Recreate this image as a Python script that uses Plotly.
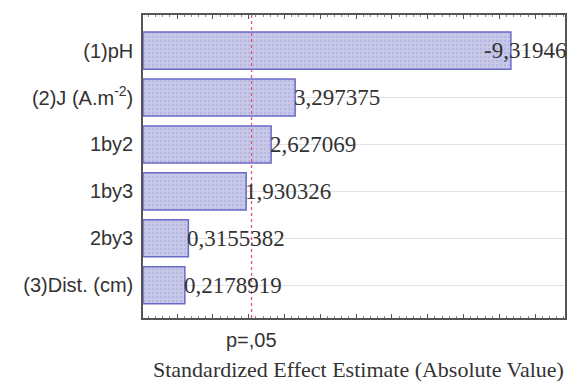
import plotly.graph_objects as go

categories = ["(3)Dist. (cm)", "2by3", "1by3", "1by2", "(2)J (A.m<sup>-2</sup>)", "(1)pH"]
values = [0.2178919, 0.3155382, 1.930326, 2.627069, 3.297375, 9.31946]
value_labels = ["0,2178919", "0,3155382", "1,930326", "2,627069", "3,297375", "-9,31946"]
p_value_line = 2.08
x_min, x_max = -0.95, 10.83

fig = go.Figure()
fig.add_trace(go.Bar(
    y=list(range(len(categories))),
    x=[v - x_min for v in values],
    base=x_min,
    orientation="h",
    width=0.79,
    marker=dict(color="#c2c2e6", line=dict(color="#6a6ac8", width=1.5),
                pattern=dict(shape=".", fgcolor="#a8a8d4", bgcolor="#c8c8ea", size=4, solidity=0.3)),
    hoverinfo="skip",
))

for i, (v, t) in enumerate(zip(values, value_labels)):
    if v > x_max - 2.2:
        fig.add_annotation(x=x_max, y=i, text=t, xanchor="right", showarrow=False, xshift=3,
                           font=dict(family="Liberation Serif", size=23, color="#333333"))
    else:
        fig.add_annotation(x=v, y=i, text=t, xanchor="left", showarrow=False, xshift=-3,
                           font=dict(family="Liberation Serif", size=23, color="#333333"))

fig.add_shape(type="line", x0=p_value_line, x1=p_value_line, y0=0, y1=1, yref="paper",
              line=dict(color="#e05878", width=1.3, dash="dot"))
fig.add_annotation(x=p_value_line, y=0, yref="paper", yshift=-22, text="p=,05", showarrow=False,
                   yanchor="middle", font=dict(family="Liberation Sans", size=20, color="#333333"))
fig.add_annotation(x=0.5, xref="paper", y=0, yref="paper", yshift=-51, xshift=4,
                   text="Standardized Effect Estimate (Absolute Value)", showarrow=False,
                   yanchor="middle", font=dict(family="Liberation Serif", size=22, color="#333333"))

fig.update_xaxes(range=[x_min, x_max], showticklabels=False, ticks="inside", ticklen=4,
                 dtick=1, tick0=0, tickcolor="#555555",
                 minor=dict(ticks="inside", ticklen=2, dtick=0.2, tickcolor="#888888"),
                 showgrid=False, zeroline=False, showline=True, linecolor="#555555",
                 linewidth=1.5, mirror="ticks")
fig.update_yaxes(range=[-0.70, 5.76], tickvals=list(range(len(categories))), ticktext=categories,
                 showgrid=True, gridcolor="#e2e2e2", gridwidth=1, zeroline=False,
                 showline=True, linecolor="#555555", linewidth=1.5, mirror=True,
                 ticks="", ticklabelstandoff=4,
                 tickfont=dict(family="Liberation Sans", size=20, color="#333333"))

fig.update_layout(width=576, height=382, margin=dict(l=143, r=9, t=15, b=64),
                  plot_bgcolor="white", paper_bgcolor="white", showlegend=False, bargap=0.2)
fig.write_html("out.html")
